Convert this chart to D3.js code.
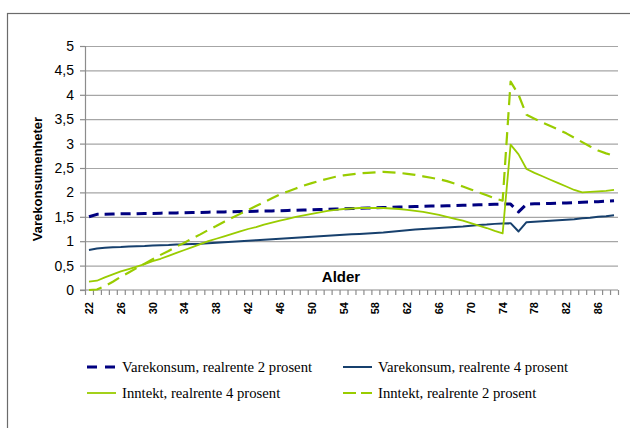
<!DOCTYPE html>
<html>
<head>
<meta charset="utf-8">
<script src="https://cdn.jsdelivr.net/npm/d3@7"></script>
<style>
  body { margin: 0; background: #fff; }
  svg { display: block; }
</style>
</head>
<body>
<svg id="chart" width="630" height="428"></svg>
<script>
// Alder (kategorier)
const ages = [22,23,24,25,26,27,28,29,30,31,32,33,34,35,36,37,38,39,40,41,
  42,43,44,45,46,47,48,49,50,51,52,53,54,55,56,57,58,59,60,61,
  62,63,64,65,66,67,68,69,70,71,72,73,74,75,76,77,78,79,80,81,
  82,83,84,85,86,87,88];
const ageLabels = [22,26,30,34,38,42,46,50,54,58,62,66,70,74,78,82,86];
const yTicks = [0,0.5,1,1.5,2,2.5,3,3.5,4,4.5,5];

// Varekonsum, realrente 2 prosent
const vare2 = [1.50,1.55,1.55,1.555,1.56,1.56,1.565,1.57,1.57,1.575,
  1.58,1.58,1.585,1.59,1.59,1.595,1.60,1.60,1.605,1.61,
  1.61,1.615,1.62,1.62,1.625,1.63,1.635,1.64,1.645,1.65,
  1.655,1.66,1.665,1.67,1.675,1.68,1.685,1.69,1.695,1.70,
  1.705,1.71,1.715,1.72,1.72,1.725,1.73,1.735,1.74,1.745,
  1.75,1.755,1.76,1.76,1.60,1.76,1.765,1.77,1.775,1.78,
  1.785,1.79,1.80,1.805,1.81,1.82,1.83];
// Varekonsum, realrente 4 prosent
const vare4 = [0.82,0.85,0.865,0.875,0.88,0.89,0.895,0.90,0.91,0.915,
  0.92,0.93,0.935,0.945,0.95,0.96,0.97,0.98,0.99,1.00,
  1.01,1.02,1.03,1.04,1.05,1.06,1.07,1.08,1.09,1.10,
  1.11,1.12,1.13,1.14,1.15,1.16,1.17,1.18,1.195,1.21,
  1.225,1.24,1.25,1.26,1.27,1.28,1.29,1.30,1.315,1.33,
  1.34,1.355,1.365,1.37,1.20,1.39,1.40,1.41,1.42,1.43,
  1.44,1.45,1.47,1.48,1.50,1.51,1.53];
// Inntekt, realrente 4 prosent
const inntekt4 = [0.17,0.19,0.26,0.32,0.38,0.43,0.48,0.53,0.59,0.64,
  0.70,0.76,0.82,0.88,0.94,1.00,1.05,1.10,1.15,1.20,
  1.25,1.29,1.34,1.38,1.42,1.46,1.50,1.53,1.56,1.59,
  1.62,1.64,1.66,1.67,1.68,1.68,1.68,1.68,1.67,1.66,
  1.64,1.62,1.60,1.57,1.54,1.50,1.46,1.42,1.37,1.32,
  1.27,1.21,1.16,2.98,2.78,2.48,2.40,2.33,2.26,2.19,
  2.12,2.05,2.00,2.01,2.02,2.03,2.05];
// Inntekt, realrente 2 prosent
const inntekt2 = [0.00,0.01,0.08,0.17,0.27,0.36,0.45,0.54,0.63,0.72,
  0.80,0.89,0.97,1.06,1.14,1.23,1.31,1.40,1.48,1.56,
  1.64,1.72,1.80,1.88,1.96,2.02,2.08,2.14,2.19,2.24,
  2.28,2.32,2.35,2.37,2.39,2.40,2.41,2.42,2.41,2.40,
  2.38,2.36,2.33,2.30,2.27,2.23,2.18,2.12,2.06,2.00,
  1.94,1.88,1.83,4.27,4.00,3.59,3.51,3.43,3.36,3.29,
  3.21,3.12,3.03,2.94,2.86,2.80,2.75];

const seriesNames = [
  "Varekonsum, realrente 2 prosent",
  "Varekonsum, realrente 4 prosent",
  "Inntekt, realrente 4 prosent",
  "Inntekt, realrente 2 prosent"
];

const series = [
  { name: seriesNames[0], values: vare2, color: "#000080", width: 3, dash: "10,6" },
  { name: seriesNames[1], values: vare4, color: "#17406d", width: 2, dash: null },
  { name: seriesNames[2], values: inntekt4, color: "#99cc00", width: 1.8, dash: null },
  { name: seriesNames[3], values: inntekt2, color: "#99cc00", width: 2.2, dash: "13,7" }
];

const svg = d3.select("#chart");
const sans = "'Liberation Sans', Arial, sans-serif";
const serif = "'Liberation Serif', 'Times New Roman', serif";

// Ytre ramme
svg.append("rect")
  .attr("x", 7.5).attr("y", 13.5)
  .attr("width", 640).attr("height", 440)
  .attr("fill", "none").attr("stroke", "#6b6b6b").attr("stroke-width", 1.2);

const plot = { left: 85, right: 618, top: 46, bottom: 290 };

const x = d3.scaleBand().domain(ages).range([plot.left, plot.right]).padding(0);
const xEdge = d3.scaleLinear().domain([0, ages.length]).range([plot.left, plot.right]);
const y = d3.scaleLinear().domain([0, 5]).range([plot.bottom, plot.top]);

// Rutenett
svg.append("g")
  .attr("transform", `translate(${plot.left},0)`)
  .call(d3.axisLeft(y).tickValues(yTicks.slice(1)).tickSize(-(plot.right - plot.left)).tickFormat(""))
  .call(g => g.select(".domain").remove())
  .call(g => g.selectAll("line").attr("stroke", "#a6a6a6").attr("stroke-width", 1.2));

// Y-akse
const yAxis = svg.append("g")
  .attr("transform", `translate(${plot.left},0)`)
  .call(d3.axisLeft(y).tickValues(yTicks).tickSize(5).tickPadding(6)
    .tickFormat(d => String(d).replace(".", ",")));
yAxis.select(".domain").attr("stroke", "#8c8c8c").attr("stroke-width", 1.2);
yAxis.selectAll("line").attr("stroke", "#8c8c8c").attr("stroke-width", 1.2);
yAxis.selectAll("text").attr("font-family", sans).attr("font-size", 14).attr("fill", "#000");

// X-akse: kategorigrenser
const xTickAxis = svg.append("g")
  .attr("transform", `translate(0,${plot.bottom})`)
  .call(d3.axisBottom(xEdge).tickValues(d3.range(ages.length + 1)).tickSize(5).tickFormat(""));
xTickAxis.select(".domain").remove();
xTickAxis.selectAll("line").attr("stroke", "#8c8c8c").attr("stroke-width", 1.2);
svg.append("line")
  .attr("x1", plot.left - 5).attr("x2", plot.right)
  .attr("y1", plot.bottom).attr("y2", plot.bottom)
  .attr("stroke", "#8c8c8c").attr("stroke-width", 1.2);

// X-akse: etiketter
const xLabelAxis = svg.append("g")
  .attr("transform", `translate(0,${plot.bottom})`)
  .call(d3.axisBottom(x).tickValues(ageLabels).tickSize(0).tickPadding(0));
xLabelAxis.select(".domain").remove();
xLabelAxis.selectAll("text")
  .attr("transform", "rotate(-90)")
  .attr("x", -12).attr("y", 0).attr("dy", "0.36em")
  .attr("text-anchor", "end")
  .attr("font-family", sans).attr("font-size", 11).attr("font-weight", "bold")
  .attr("fill", "#000");

// Aksetitler
svg.append("text")
  .attr("x", 341).attr("y", 282)
  .attr("text-anchor", "middle")
  .attr("font-family", sans).attr("font-size", 15).attr("font-weight", "bold")
  .text("Alder");

svg.append("text")
  .attr("transform", "translate(37,179) rotate(-90)")
  .attr("text-anchor", "middle").attr("dy", "0.35em")
  .attr("font-family", sans).attr("font-size", 13).attr("font-weight", "bold")
  .text("Varekonsumenheter");

// Linjer
const line = d3.line()
  .x((d, i) => x(ages[i]) + x.bandwidth() / 2)
  .y(d => y(d));

series.forEach(s => {
  svg.append("path")
    .datum(s.values)
    .attr("d", line)
    .attr("fill", "none")
    .attr("stroke", s.color)
    .attr("stroke-width", s.width)
    .attr("stroke-linejoin", "round")
    .attr("stroke-dasharray", s.dash);
});

// Tegnforklaring
const legendPos = [
  { x: 87, y: 367 }, { x: 343, y: 367 },
  { x: 87, y: 393 }, { x: 343, y: 393 }
];
const legendDash = ["10,8", null, null, "13,5"];
series.forEach((s, i) => {
  const p = legendPos[i];
  const g = svg.append("g").attr("transform", `translate(${p.x},${p.y})`);
  g.append("line")
    .attr("x1", 0).attr("x2", 29).attr("y1", 0).attr("y2", 0)
    .attr("stroke", s.color).attr("stroke-width", s.width)
    .attr("stroke-dasharray", legendDash[i]);
  g.append("text")
    .attr("x", 35).attr("y", 0).attr("dy", "0.33em")
    .attr("font-family", serif).attr("font-size", 14.7).attr("fill", "#000")
    .text(s.name);
});
</script>
</body>
</html>
